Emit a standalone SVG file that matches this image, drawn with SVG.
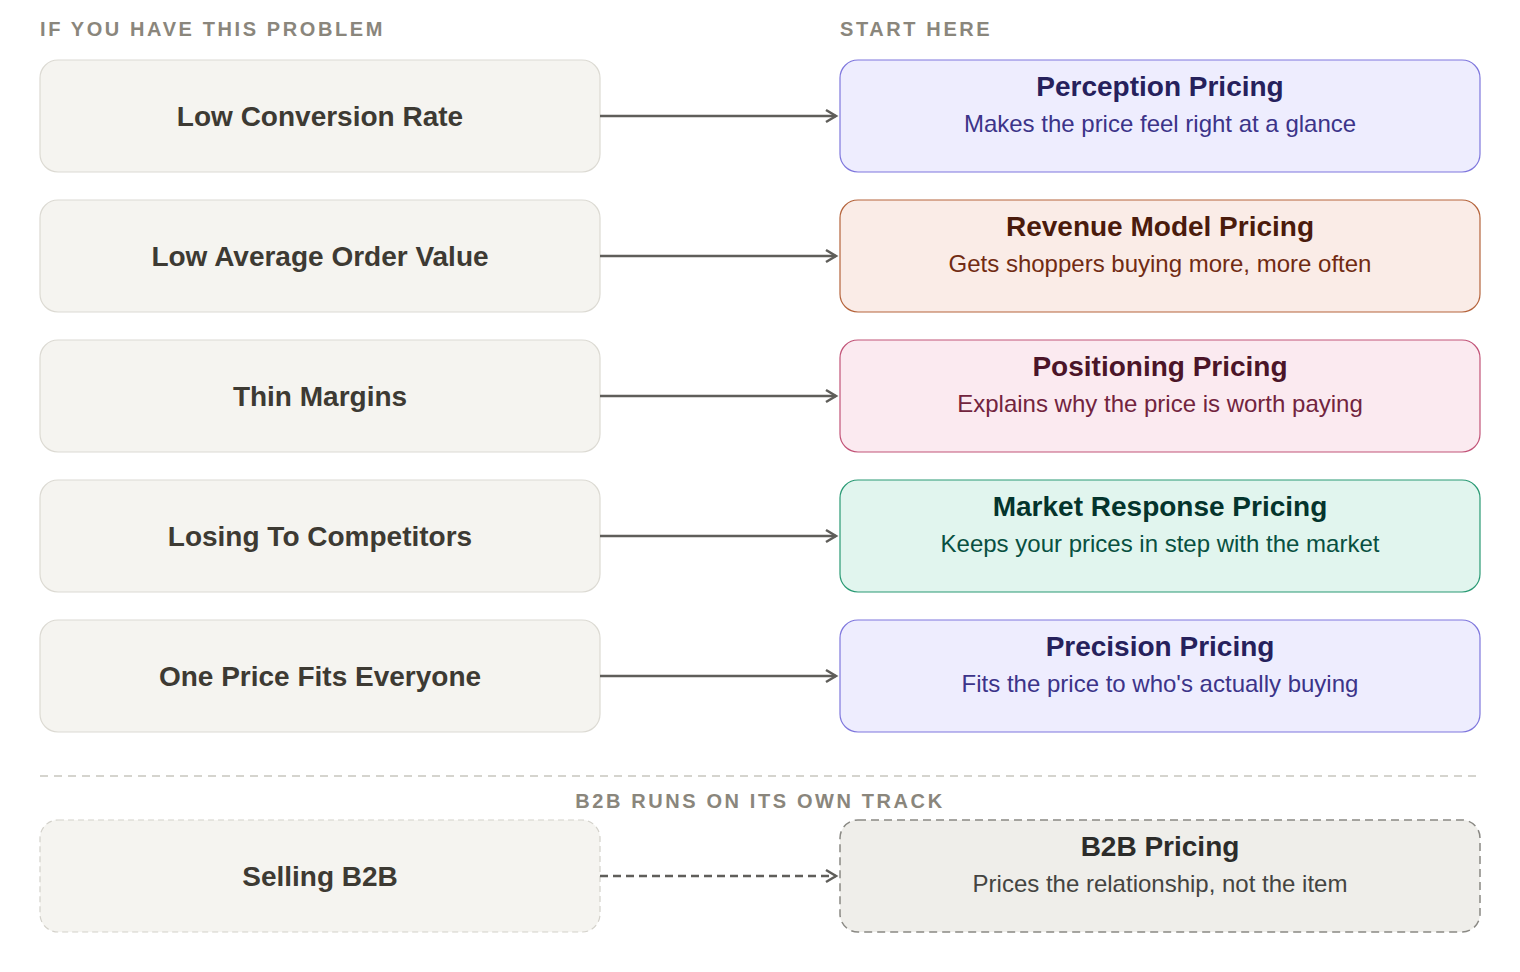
<svg xmlns="http://www.w3.org/2000/svg" width="1520" height="972" viewBox="0 0 1520 972">
<style>
text{font-family:"Liberation Sans",Arial,sans-serif;text-anchor:middle}
.hdr{font-size:20px;font-weight:bold;fill:#8a867c;letter-spacing:2.6px;text-anchor:start}
.prob{fill:#f5f4f0;stroke:#dcdad3;stroke-width:1.2}
.pt{font-size:28px;font-weight:bold;fill:#3d3a33}
.tt{font-size:28px;font-weight:bold}
.st{font-size:24px}
.conn{stroke:#5f5e5a;stroke-width:2.5;fill:none}
</style>
<defs>
<marker id="ar" markerWidth="16" markerHeight="16" refX="13" refY="8" orient="auto" markerUnits="userSpaceOnUse">
<path d="M3,2 L13,8 L3,14" fill="none" stroke="#5f5e5a" stroke-width="2.5"/>
</marker>
</defs>
<rect width="1520" height="972" fill="#fff"/>
<text class="hdr" x="40" y="36">IF YOU HAVE THIS PROBLEM</text>
<text class="hdr" x="840" y="36">START HERE</text>
<g id="p1"><rect class="prob" x="40" y="60" width="560" height="112" rx="18"/><text class="pt" x="320" y="126">Low Conversion Rate</text></g>
<g id="p2"><rect class="prob" x="40" y="200" width="560" height="112" rx="18"/><text class="pt" x="320" y="266">Low Average Order Value</text></g>
<g id="p3"><rect class="prob" x="40" y="340" width="560" height="112" rx="18"/><text class="pt" x="320" y="406">Thin Margins</text></g>
<g id="p4"><rect class="prob" x="40" y="480" width="560" height="112" rx="18"/><text class="pt" x="320" y="546">Losing To Competitors</text></g>
<g id="p5"><rect class="prob" x="40" y="620" width="560" height="112" rx="18"/><text class="pt" x="320" y="686">One Price Fits Everyone</text></g>
<g id="s1"><rect x="840" y="60" width="640" height="112" rx="18" fill="#eeedfe" stroke="#7f77dd" stroke-width="1.2"/><text class="tt" x="1160" y="96" fill="#26215c">Perception Pricing</text><text class="st" x="1160" y="132" fill="#3c3489">Makes the price feel right at a glance</text></g>
<g id="s2"><rect x="840" y="200" width="640" height="112" rx="18" fill="#faece7" stroke="#b5643c" stroke-width="1.2"/><text class="tt" x="1160" y="236" fill="#4a1b0c">Revenue Model Pricing</text><text class="st" x="1160" y="272" fill="#712b13">Gets shoppers buying more, more often</text></g>
<g id="s3"><rect x="840" y="340" width="640" height="112" rx="18" fill="#fbeaf0" stroke="#c25478" stroke-width="1.2"/><text class="tt" x="1160" y="376" fill="#4b1528">Positioning Pricing</text><text class="st" x="1160" y="412" fill="#72243e">Explains why the price is worth paying</text></g>
<g id="s4"><rect x="840" y="480" width="640" height="112" rx="18" fill="#e1f5ee" stroke="#2a9a74" stroke-width="1.2"/><text class="tt" x="1160" y="516" fill="#04342c">Market Response Pricing</text><text class="st" x="1160" y="552" fill="#085041">Keeps your prices in step with the market</text></g>
<g id="s5"><rect x="840" y="620" width="640" height="112" rx="18" fill="#eeedfe" stroke="#7f77dd" stroke-width="1.2"/><text class="tt" x="1160" y="656" fill="#26215c">Precision Pricing</text><text class="st" x="1160" y="692" fill="#3c3489">Fits the price to who's actually buying</text></g>
<line x1="40" y1="776" x2="1480" y2="776" stroke="#c8c6bf" stroke-width="1.5" stroke-dasharray="8 6"/>
<text class="hdr" x="760" y="808" style="text-anchor:middle">B2B RUNS ON ITS OWN TRACK</text>
<g id="p6"><rect x="40" y="820" width="560" height="112" rx="18" fill="#f5f4f0" stroke="#d3d1ca" stroke-width="1.2" stroke-dasharray="6 4"/><text class="pt" x="320" y="886">Selling B2B</text></g>
<g id="s6"><rect x="840" y="820" width="640" height="112" rx="18" fill="#efeeea" stroke="#8a8984" stroke-width="1.5" stroke-dasharray="8 5"/><text class="tt" x="1160" y="856" fill="#2c2c2a">B2B Pricing</text><text class="st" x="1160" y="892" fill="#444441">Prices the relationship, not the item</text></g>
<g id="connectors">
<line class="conn" x1="600" y1="116" x2="836" y2="116" marker-end="url(#ar)"/>
<line class="conn" x1="600" y1="256" x2="836" y2="256" marker-end="url(#ar)"/>
<line class="conn" x1="600" y1="396" x2="836" y2="396" marker-end="url(#ar)"/>
<line class="conn" x1="600" y1="536" x2="836" y2="536" marker-end="url(#ar)"/>
<line class="conn" x1="600" y1="676" x2="836" y2="676" marker-end="url(#ar)"/>
<line class="conn" x1="600" y1="876" x2="836" y2="876" stroke-dasharray="8 5" marker-end="url(#ar)"/>
</g>
</svg>
